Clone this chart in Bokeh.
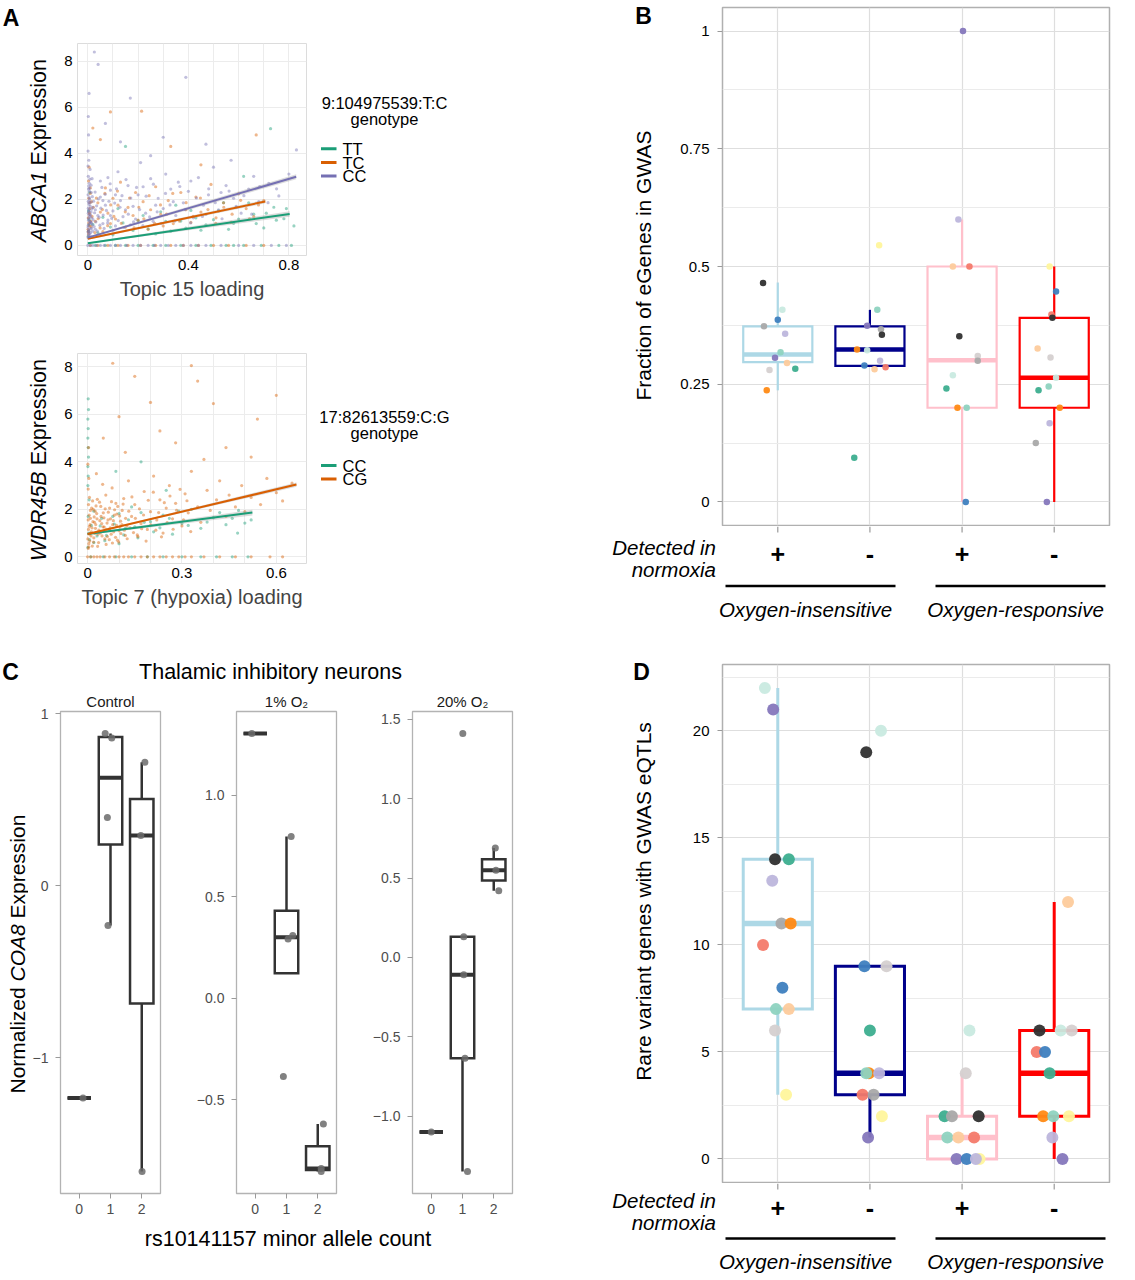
import numpy as np
from bokeh.plotting import figure
from bokeh.layouts import column, row
from bokeh.models import Range1d, FixedTicker, Label, BoxAnnotation, Plot, Title
from bokeh.core.properties import value
from bokeh.embed import file_html
from bokeh.resources import INLINE

FONT = "Liberation Sans"

# ------------------------------------------------------------------ panel A
# ABCA1 expression vs Topic 15 loading (one point per cell), by genotype
a1_tt = [(0.002, 0.40), (0.005, 0.90), (0.003, 1.50), (0.007, 2.30),
         (0.04, 0.55), (0.09, 0.80), (0.12, 1.60), (0.18, 0.65), (0.22, 1.30), (0.27, 0.50),
         (0.31, 1.05), (0.35, 1.75), (0.39, 0.75), (0.43, 1.20), (0.47, 0.90), (0.52, 1.50),
         (0.56, 0.70), (0.60, 1.15), (0.64, 1.85), (0.67, 0.95), (0.71, 1.40), (0.75, 1.10),
         (0.79, 1.60), (0.82, 0.85), (0.15, 4.30), (0.62, 3.00), (0.727, 5.07),
         (0.003, 0.62), (0.006, 1.12), (0.02, 0.92), (0.06, 1.22), (0.10, 0.46), (0.14, 0.98),
         (0.20, 1.08), (0.24, 0.72), (0.29, 1.46), (0.33, 0.62), (0.37, 1.06), (0.41, 1.52),
         (0.45, 0.66), (0.50, 1.12), (0.54, 1.86), (0.58, 0.96), (0.66, 1.36), (0.70, 0.76),
         (0.74, 1.66), (0.78, 1.16),
         (0.03, 0), (0.07, 0), (0.11, 0), (0.15, 0), (0.20, 0), (0.26, 0), (0.31, 0), (0.37, 0),
         (0.43, 0), (0.49, 0), (0.55, 0), (0.58, 0), (0.62, 0), (0.69, 0), (0.76, 0), (0.81, 0)]
a1_tc = [(0.003, 0.50), (0.006, 0.85), (0.002, 1.20), (0.008, 1.60), (0.004, 2.05), (0.010, 2.50),
         (0.005, 3.40), (0.012, 1.05), (0.015, 1.90), (0.001, 0.70), (0.007, 1.35), (0.003, 2.80),
         (0.03, 1.05), (0.04, 1.85), (0.06, 0.60), (0.07, 2.50), (0.08, 1.40), (0.10, 2.05),
         (0.11, 1.15), (0.13, 2.75), (0.15, 0.80), (0.16, 1.65), (0.19, 2.30), (0.20, 1.10),
         (0.22, 1.90), (0.24, 0.70), (0.27, 2.55), (0.29, 1.35), (0.32, 1.95), (0.34, 0.95),
         (0.37, 2.30), (0.39, 1.55), (0.41, 1.00), (0.43, 2.10), (0.45, 1.45), (0.49, 2.65),
         (0.51, 1.20), (0.54, 1.85), (0.57, 1.00), (0.60, 2.25), (0.63, 1.60), (0.66, 1.25),
         (0.70, 1.95), (0.05, 1.45), (0.09, 0.95), (0.12, 1.75), (0.18, 1.30), (0.25, 1.55),
         (0.30, 0.85), (0.09, 5.80), (0.214, 5.83), (0.33, 4.30), (0.05, 4.60), (0.45, 3.50),
         (0.67, 4.80), (0.02, 5.10),
         (0.002, 0.60), (0.004, 0.98), (0.006, 1.42), (0.008, 1.86), (0.010, 2.26), (0.013, 0.82),
         (0.017, 1.26), (0.022, 1.66), (0.028, 0.56), (0.034, 2.06), (0.041, 1.16), (0.049, 0.76),
         (0.058, 1.56), (0.068, 2.26), (0.079, 0.86), (0.091, 1.76), (0.104, 1.26), (0.118, 2.36),
         (0.133, 0.96), (0.149, 1.46), (0.166, 2.06), (0.184, 0.76), (0.203, 1.66), (0.223, 1.16),
         (0.244, 2.16), (0.266, 0.96), (0.289, 1.76), (0.313, 1.36), (0.338, 2.26), (0.364, 1.06),
         (0.391, 1.86), (0.419, 1.26), (0.448, 2.06), (0.478, 1.56), (0.509, 0.96), (0.541, 1.66),
         (0.574, 1.36), (0.608, 1.96), (0.643, 1.16), (0.679, 1.76),
         (0.01, 0), (0.04, 0), (0.08, 0), (0.12, 0), (0.16, 0), (0.21, 0), (0.27, 0), (0.33, 0),
         (0.38, 0), (0.44, 0), (0.50, 0), (0.56, 0), (0.63, 0), (0.70, 0)]
a1_cc = [(0.002, 0.45), (0.004, 0.62), (0.001, 0.80), (0.006, 0.95), (0.003, 1.10), (0.008, 1.25),
         (0.002, 1.40), (0.005, 1.55), (0.010, 1.70), (0.004, 1.85), (0.007, 2.00), (0.001, 2.20),
         (0.003, 2.45), (0.006, 2.70), (0.002, 3.00), (0.009, 3.30), (0.004, 3.70), (0.001, 4.10),
         (0.003, 4.80), (0.002, 5.60), (0.005, 6.60), (0.011, 0.55), (0.012, 1.00), (0.013, 1.45),
         (0.015, 0.75), (0.014, 2.30), (0.016, 1.20), (0.018, 0.90), (0.020, 1.65), (0.017, 2.90),
         (0.001, 0.35), (0.003, 0.68), (0.005, 1.32), (0.002, 1.92), (0.004, 2.58), (0.001, 3.45),
         (0.006, 0.52), (0.008, 1.05), (0.002, 1.62), (0.007, 2.35),
         (0.03, 0.70), (0.04, 1.30), (0.05, 2.10), (0.06, 0.95), (0.07, 1.75), (0.05, 2.80),
         (0.08, 1.10), (0.09, 2.40), (0.10, 1.50), (0.11, 0.85), (0.12, 3.20), (0.13, 1.95),
         (0.14, 1.25), (0.16, 2.60), (0.17, 0.90), (0.18, 1.70), (0.20, 2.20), (0.21, 3.60),
         (0.23, 1.40), (0.25, 2.90), (0.26, 1.05), (0.28, 2.05), (0.30, 1.60), (0.31, 3.10),
         (0.33, 2.45), (0.35, 1.30), (0.36, 2.75), (0.38, 1.85), (0.40, 2.35), (0.42, 1.20),
         (0.44, 2.95), (0.46, 1.75), (0.48, 2.20), (0.50, 3.40), (0.52, 1.55), (0.55, 2.60),
         (0.58, 2.05), (0.61, 1.40), (0.64, 2.45), (0.68, 1.90), (0.72, 2.70), (0.76, 2.15),
         (0.80, 3.10), (0.03, 1.55), (0.04, 0.45), (0.06, 1.95), (0.08, 2.95), (0.09, 1.30),
         (0.11, 2.20), (0.15, 1.55), (0.19, 1.15), (0.22, 2.55), (0.27, 1.75), (0.34, 1.90),
         (0.41, 2.80), (0.47, 1.35), (0.53, 2.30), (0.59, 1.70), (0.66, 3.00),
         (0.001, 0.58), (0.002, 0.88), (0.003, 1.18), (0.004, 1.48), (0.005, 1.78), (0.006, 2.08),
         (0.007, 2.48), (0.008, 2.88), (0.009, 0.42), (0.010, 0.72), (0.011, 1.32), (0.012, 1.88),
         (0.013, 2.62), (0.014, 0.98), (0.016, 1.58), (0.018, 2.12), (0.019, 0.62), (0.021, 1.12),
         (0.023, 1.92), (0.025, 0.82), (0.027, 1.42), (0.029, 2.32), (0.032, 1.02), (0.035, 1.72),
         (0.038, 0.62), (0.042, 2.02), (0.045, 1.22), (0.048, 0.88), (0.052, 1.62), (0.056, 2.52),
         (0.061, 1.32), (0.065, 0.74), (0.069, 2.22), (0.074, 1.52), (0.079, 0.98), (0.084, 1.92),
         (0.089, 2.68), (0.095, 1.18), (0.101, 0.66), (0.107, 1.84), (0.114, 2.46), (0.121, 1.08),
         (0.128, 1.66), (0.136, 2.16), (0.144, 0.78), (0.152, 2.86), (0.161, 1.36), (0.171, 2.06),
         (0.182, 1.02), (0.194, 2.52), (0.206, 1.56), (0.219, 0.86), (0.232, 2.14), (0.246, 1.24),
         (0.261, 2.66), (0.276, 1.46), (0.292, 0.96), (0.309, 2.26), (0.327, 1.76), (0.346, 1.06),
         (0.366, 2.56), (0.387, 1.56), (0.409, 0.98), (0.432, 2.06), (0.456, 1.26), (0.481, 2.46),
         (0.507, 1.86), (0.534, 1.16), (0.562, 2.36), (0.591, 1.66), (0.621, 2.16), (0.652, 1.36),
         (0.684, 2.56), (0.717, 1.86), (0.751, 2.46),
         (0.026, 8.40), (0.041, 7.86), (0.39, 7.30), (0.169, 6.40), (0.07, 5.30), (0.30, 4.70),
         (0.47, 4.40), (0.83, 4.15), (0.13, 4.50), (0.25, 3.90), (0.57, 3.70),
         (0.0, 0), (0.02, 0), (0.05, 0), (0.09, 0), (0.13, 0), (0.18, 0), (0.24, 0), (0.29, 0),
         (0.35, 0), (0.41, 0), (0.47, 0), (0.53, 0), (0.60, 0), (0.66, 0), (0.73, 0), (0.79, 0),
         (0.01, 0), (0.035, 0), (0.065, 0), (0.11, 0), (0.155, 0), (0.21, 0), (0.265, 0),
         (0.32, 0), (0.38, 0), (0.44, 0)]

a1_genotypes = ["TT", "TC", "CC"]
a1_colors = ["#1B9E77", "#D95F02", "#7570B3"]
a1_fit_xmax = [0.803, 0.706, 0.829]
a1_fit_y0 = [0.10, 0.29, 0.34]
a1_fit_y1 = [1.37, 1.91, 2.98]
a1_fit_se0 = [0.03, 0.04, 0.04]
a1_fit_se1 = [0.12, 0.08, 0.11]

# WDR45B expression vs Topic 7 (hypoxia) loading
a2_cc = [(0.001, 3.00), (0.002, 3.40), (0.001, 3.80), (0.003, 4.20), (0.002, 4.60), (0.001, 5.00),
         (0.002, 5.40), (0.001, 5.80), (0.003, 6.20), (0.002, 6.65), (0.001, 0.40), (0.004, 1.00),
         (0.002, 1.70), (0.005, 2.40),
         (0.02, 0.60), (0.04, 1.30), (0.06, 0.90), (0.08, 1.70), (0.10, 0.55), (0.12, 1.20),
         (0.14, 2.10), (0.16, 0.80), (0.18, 1.45), (0.21, 1.05), (0.24, 1.75), (0.27, 0.95),
         (0.30, 1.40), (0.33, 2.00), (0.36, 1.20), (0.40, 1.65), (0.44, 1.35), (0.48, 1.95),
         (0.52, 1.55), (0.09, 3.60), (0.25, 2.80), (0.17, 4.00), (0.477, 1.00),
         (0.006, 0.72), (0.012, 1.32), (0.02, 1.92), (0.03, 0.88), (0.045, 1.62), (0.055, 0.68),
         (0.07, 1.12), (0.085, 1.38), (0.10, 1.82), (0.115, 0.92), (0.13, 1.56), (0.15, 1.26),
         (0.17, 1.86), (0.20, 1.48), (0.23, 1.22), (0.26, 1.62), (0.29, 1.92), (0.32, 1.32),
         (0.38, 1.46), (0.42, 1.86), (0.46, 1.62), (0.50, 1.42),
         (0.01, 0), (0.05, 0), (0.09, 0), (0.14, 0), (0.19, 0), (0.24, 0), (0.30, 0), (0.36, 0),
         (0.41, 0), (0.46, 0), (0.51, 0)]
a2_cg = [(0.002, 0.35), (0.004, 0.55), (0.001, 0.75), (0.006, 0.95), (0.003, 1.15), (0.008, 1.35),
         (0.002, 1.55), (0.005, 1.75), (0.009, 1.95), (0.003, 2.20), (0.006, 2.50), (0.002, 2.85),
         (0.004, 3.30), (0.001, 3.90), (0.003, 4.60),
         (0.015, 0.45), (0.020, 0.80), (0.025, 1.20), (0.030, 1.60), (0.018, 2.00), (0.035, 0.60),
         (0.040, 1.00), (0.045, 1.40), (0.050, 1.85), (0.038, 2.30), (0.055, 0.75), (0.060, 1.15),
         (0.065, 1.55), (0.070, 2.05), (0.058, 2.60), (0.075, 0.95), (0.080, 1.35), (0.085, 1.75),
         (0.090, 2.25), (0.078, 2.90), (0.095, 0.70), (0.100, 1.10), (0.105, 1.50), (0.110, 1.95),
         (0.115, 2.45), (0.120, 0.90), (0.125, 1.30), (0.130, 3.20), (0.028, 3.50), (0.048, 3.05),
         (0.012, 1.05), (0.022, 1.45), (0.033, 0.95), (0.043, 1.70), (0.053, 1.25), (0.063, 0.85),
         (0.073, 1.60), (0.083, 1.05), (0.093, 1.80), (0.103, 1.25),
         (0.004, 0.42), (0.007, 0.66), (0.011, 0.88), (0.014, 1.22), (0.017, 1.48), (0.021, 1.68),
         (0.024, 1.92), (0.027, 2.14), (0.031, 2.42), (0.006, 1.28), (0.009, 1.62), (0.013, 2.05),
         (0.016, 2.35), (0.019, 0.62), (0.023, 0.98), (0.026, 1.36), (0.029, 1.82), (0.032, 0.44),
         (0.036, 1.12), (0.039, 1.52), (0.042, 2.12), (0.046, 0.88), (0.049, 1.26), (0.052, 1.64),
         (0.056, 2.02), (0.059, 0.52), (0.062, 1.42), (0.066, 1.88), (0.069, 0.72), (0.072, 1.22),
         (0.076, 2.32), (0.079, 0.58), (0.082, 1.52), (0.086, 1.98), (0.089, 0.82), (0.092, 1.32),
         (0.096, 2.12), (0.099, 0.62), (0.102, 1.72), (0.106, 0.98), (0.109, 1.36), (0.113, 2.22),
         (0.117, 1.12), (0.121, 1.62), (0.126, 0.76), (0.131, 1.92), (0.135, 1.22), (0.141, 2.52),
         (0.146, 1.02), (0.152, 1.62), (0.158, 0.92), (0.165, 2.02), (0.172, 1.18), (0.178, 1.76),
         (0.186, 0.66), (0.193, 2.38), (0.201, 1.34), (0.209, 2.72), (0.217, 1.12), (0.226, 1.86),
         (0.235, 0.84), (0.244, 2.28), (0.253, 1.44), (0.262, 2.56), (0.272, 1.16), (0.283, 1.96),
         (0.294, 2.84), (0.305, 1.56), (0.316, 2.36), (0.328, 1.06),
         (0.14, 1.70), (0.15, 2.20), (0.16, 0.85), (0.17, 1.40), (0.18, 2.75), (0.19, 1.15),
         (0.20, 1.90), (0.21, 3.40), (0.22, 1.55), (0.23, 2.40), (0.24, 1.00), (0.25, 2.05),
         (0.26, 3.00), (0.27, 1.60), (0.28, 2.25), (0.30, 1.30), (0.31, 2.65), (0.32, 1.85),
         (0.33, 3.60), (0.35, 2.10), (0.36, 1.45), (0.38, 2.80), (0.39, 1.95), (0.41, 2.40),
         (0.42, 3.20), (0.44, 1.70), (0.45, 2.60), (0.47, 2.10), (0.49, 3.00), (0.50, 1.90),
         (0.52, 2.50), (0.55, 2.20), (0.57, 3.30), (0.60, 2.70), (0.62, 2.35), (0.65, 3.10),
         (0.08, 8.15), (0.15, 7.60), (0.33, 8.05), (0.35, 7.40), (0.40, 6.45), (0.54, 5.80),
         (0.60, 6.80), (0.20, 6.50), (0.10, 5.90), (0.23, 5.30), (0.44, 4.60), (0.28, 4.80),
         (0.12, 4.40), (0.05, 5.00), (0.52, 4.20), (0.37, 4.10),
         (0.0, 0), (0.02, 0), (0.04, 0), (0.07, 0), (0.10, 0), (0.13, 0), (0.17, 0), (0.21, 0),
         (0.25, 0), (0.29, 0), (0.33, 0), (0.37, 0), (0.42, 0), (0.47, 0), (0.52, 0), (0.58, 0),
         (0.62, 0), (0.01, 0), (0.03, 0), (0.055, 0), (0.085, 0), (0.115, 0), (0.15, 0),
         (0.19, 0), (0.23, 0), (0.27, 0), (0.31, 0)]

a2_genotypes = ["CC", "CG"]
a2_colors = ["#1B9E77", "#D95F02"]
a2_fit_xmax = [0.524, 0.664]
a2_fit_y0 = [0.96, 0.96]
a2_fit_y1 = [1.86, 3.04]
a2_fit_se0 = [0.03, 0.02]
a2_fit_se1 = [0.12, 0.09]

# ------------------------------------------------------------------ panels B and D
group_ticks = [1, 2, 3, 4]
group_marks = ["+", "-", "+", "-"]
box_colors = ["#ADD8E6", "#00008B", "#FFC0CB", "#FF0000"]

PAL = {"K": "#303030", "TL": "#3DAE8F", "MT": "#8ED3C0", "PM": "#C9EAE0", "BL": "#3E80BF",
       "PU": "#8577BC", "LV": "#BDB6DC", "OR": "#FF8A14", "SA": "#F47A6A", "PE": "#FDCB9C",
       "YE": "#FFF69C", "GR": "#A9A9A9", "LG": "#D5D0D0"}

# fraction of eGenes in GWAS: (group, horizontal jitter, value, cell-type colour)
b_points = [(1, -0.16, 0.465, "K"), (1, 0.05, 0.408, "PM"), (1, 0.00, 0.387, "BL"),
            (1, -0.15, 0.373, "GR"), (1, 0.08, 0.357, "LV"), (1, 0.03, 0.318, "MT"),
            (1, -0.03, 0.306, "PU"), (1, 0.10, 0.295, "PE"), (1, -0.09, 0.280, "LG"),
            (1, 0.19, 0.283, "TL"), (1, -0.12, 0.237, "OR"),
            (2, 0.10, 0.545, "YE"), (2, 0.08, 0.408, "MT"), (2, -0.03, 0.374, "PU"),
            (2, 0.12, 0.367, "GR"), (2, 0.13, 0.355, "K"), (2, -0.14, 0.324, "OR"),
            (2, -0.03, 0.322, "PM"), (2, 0.11, 0.300, "LV"), (2, -0.06, 0.290, "BL"),
            (2, 0.05, 0.282, "PE"), (2, 0.17, 0.286, "SA"), (2, -0.17, 0.094, "TL"),
            (3, 0.01, 1.000, "PU"), (3, -0.04, 0.600, "LV"), (3, -0.10, 0.500, "PE"),
            (3, 0.08, 0.500, "SA"), (3, -0.03, 0.352, "K"), (3, 0.17, 0.310, "LG"),
            (3, 0.17, 0.300, "GR"), (3, -0.10, 0.269, "PM"), (3, -0.17, 0.241, "TL"),
            (3, -0.05, 0.200, "OR"), (3, 0.05, 0.200, "MT"), (3, 0.04, 0.000, "BL"),
            (4, -0.05, 0.500, "YE"), (4, 0.02, 0.447, "BL"), (4, -0.03, 0.398, "SA"),
            (4, -0.02, 0.391, "K"), (4, -0.18, 0.326, "PE"), (4, -0.04, 0.307, "LG"),
            (4, 0.02, 0.264, "PM"), (4, -0.06, 0.245, "MT"), (4, -0.17, 0.237, "TL"),
            (4, 0.06, 0.200, "OR"), (4, -0.05, 0.167, "LV"), (4, -0.20, 0.125, "GR"),
            (4, -0.08, 0.000, "PU")]
b_q1 = [0.297, 0.289, 0.200, 0.200]
b_med = [0.313, 0.324, 0.301, 0.264]
b_q3 = [0.373, 0.373, 0.500, 0.391]
b_lo = [0.237, 0.289, 0.000, 0.000]
b_hi = [0.466, 0.408, 0.600, 0.500]

# rare variant genes with GWAS eQTLs
d_points = [(1, -0.14, 22, "PM"), (1, -0.05, 21, "PU"), (1, -0.03, 14, "K"), (1, 0.12, 14, "TL"),
            (1, -0.06, 13, "LV"), (1, 0.04, 11, "GR"), (1, 0.14, 11, "OR"), (1, -0.16, 10, "SA"),
            (1, 0.05, 8, "BL"), (1, -0.02, 7, "MT"), (1, 0.12, 7, "PE"), (1, -0.03, 6, "LG"),
            (1, 0.09, 3, "YE"),
            (2, 0.12, 20, "PM"), (2, -0.04, 19, "K"), (2, -0.06, 9, "BL"), (2, 0.18, 9, "LG"),
            (2, 0.00, 6, "TL"), (2, -0.01, 4, "OR"), (2, -0.04, 4, "MT"), (2, 0.10, 4, "LV"),
            (2, -0.08, 3, "SA"), (2, 0.04, 3, "GR"), (2, 0.13, 2, "YE"), (2, -0.02, 1, "PU"),
            (3, 0.08, 6, "PM"), (3, 0.04, 4, "LG"), (3, -0.19, 2, "TL"), (3, -0.11, 2, "GR"),
            (3, 0.18, 2, "K"), (3, -0.16, 1, "MT"), (3, -0.04, 1, "PE"), (3, 0.13, 1, "SA"),
            (3, 0.19, 0, "YE"), (3, -0.06, 0, "PU"), (3, 0.05, 0, "BL"), (3, 0.15, 0, "LV"),
            (4, 0.15, 12, "PE"), (4, -0.16, 6, "K"), (4, 0.07, 6, "PM"), (4, 0.19, 6, "LG"),
            (4, -0.19, 5, "SA"), (4, -0.10, 5, "BL"), (4, -0.05, 4, "TL"), (4, -0.12, 2, "OR"),
            (4, -0.01, 2, "MT"), (4, 0.16, 2, "YE"), (4, -0.02, 1, "LV"), (4, 0.09, 0, "PU")]
d_q1 = [7, 3, 0, 2]
d_med = [11, 4, 1, 4]
d_q3 = [14, 9, 2, 6]
d_lo = [3, 1, 0, 0]
d_hi = [22, 9, 4, 12]

# ------------------------------------------------------------------ panel C
c_strips = ["Control", "1% O\u2082", "20% O\u2082"]
c_ctrl_count = [0, 1, 1, 1, 1, 2, 2, 2]
c_ctrl_expr = [-1.235, 0.885, 0.858, 0.396, -0.232, 0.717, 0.291, -1.663]
c_ctrl_jit = [0.12, -0.17, 0.04, -0.10, -0.08, 0.10, -0.03, 0.01]
c_low_count = [0, 1, 1, 1, 1, 2, 2, 2]
c_low_expr = [1.304, 0.796, 0.309, 0.292, -0.386, -0.620, -0.839, -0.854]
c_low_jit = [-0.11, 0.15, 0.20, 0.05, -0.10, 0.18, 0.11, 0.11]
c_high_count = [0, 1, 1, 1, 1, 1, 2, 2, 2]
c_high_expr = [-1.100, 1.412, 0.131, -0.109, -0.636, -1.350, 0.690, 0.549, 0.420]
c_high_jit = [0.0, 0.01, 0.04, 0.04, 0.08, 0.16, 0.05, 0.07, 0.16]
c_ticks = [[-1, 0, 1], [-0.5, 0.0, 0.5, 1.0], [-1.0, -0.5, 0.0, 0.5, 1.0, 1.5]]
c_tick_labels = [["\u22121", "0", "1"], ["\u22120.5", "0.0", "0.5", "1.0"],
                 ["\u22121.0", "\u22120.5", "0.0", "0.5", "1.0", "1.5"]]

# ------------------------------------------------------------------ helpers
FRAMES = {}
# annotation strips keep their own full-canvas frame inside rows/columns
NO_ALIGN = {"frame_align": False} if "frame_align" in Plot.properties() else {}


def make_panel(ox, oy, w, h, frame, xr, yr, **kw):
    # frame = (left, top, right, bottom) in page pixels
    fl, ft, fr, fb = frame
    p = figure(width=w, height=h, x_range=Range1d(*xr), y_range=Range1d(*yr),
               min_border_left=int(round(fl - ox)), min_border_right=int(round(ox + w - fr)),
               min_border_top=int(round(ft - oy)), min_border_bottom=int(round(oy + h - fb)),
               output_backend="svg", toolbar_location=None, title=None, **kw)
    p.border_fill_color = "white"
    p.background_fill_color = "white"
    FRAMES[id(p)] = (fl, fb)
    return p


def text_fig(ox, oy, w, h, xr=None):
    # annotation strip: the frame fills the whole canvas, y runs down the page
    p = figure(width=w, height=h, x_range=Range1d(*(xr or (ox, ox + w))),
               y_range=Range1d(oy + h, oy),
               min_border_left=0, min_border_right=0, min_border_top=0, min_border_bottom=0,
               x_axis_type=None, y_axis_type=None,
               output_backend="svg", toolbar_location=None, title=None, **NO_ALIGN)
    p.outline_line_color = None
    p.border_fill_color = "white"
    p.background_fill_color = "white"
    FRAMES[id(p)] = (ox, oy + h)
    return p


def text(p, px, py, s, size, style="normal", align="center", baseline="middle", angle=0.0,
         color="#000000"):
    fl, fb = FRAMES[id(p)]
    p.add_layout(Label(x=px - fl, y=fb - py, x_units="screen", y_units="screen", text=s,
                       text_font=FONT, text_font_size=f"{size}px", text_font_style=style,
                       text_align=align, text_baseline=baseline, angle=angle, text_color=color))


def hbar(p, x0, x1, py, thick, color):
    fl, fb = FRAMES[id(p)]
    p.add_layout(BoxAnnotation(left=x0 - fl, right=x1 - fl,
                               bottom=fb - py - thick / 2, top=fb - py + thick / 2,
                               left_units="screen", right_units="screen",
                               bottom_units="screen", top_units="screen",
                               fill_color=color, fill_alpha=1.0, line_color=None))


def style_axis(ax, size, color="#000000", tick_out=0, standoff=5, style="normal"):
    ax.axis_line_color = None
    ax.major_tick_line_color = "#9a9a9a" if tick_out else None
    ax.major_tick_out = tick_out
    ax.major_tick_in = 0
    ax.minor_tick_line_color = None
    ax.major_label_standoff = standoff
    ax.major_label_text_font = FONT
    ax.major_label_text_font_size = f"{size}px"
    ax.major_label_text_color = color
    ax.major_label_text_font_style = style


def mixed_ylabel(p, px, junction, italic_part, rest, size):
    # italic gene symbol ending at the junction, plain remainder one space above (reads upward)
    gap = 0.278 * size
    text(p, px, junction, italic_part, size, style="italic", align="right", angle=np.pi / 2)
    text(p, px, junction - gap, rest, size, align="left", angle=np.pi / 2)


def split(pts):
    return [q[0] for q in pts], [q[1] for q in pts]


# ------------------------------------------------------------------ panel A figures
def scatter_panel(oy, h, frame, xr, yr, series, colors, fits, xticks, xgrid, xlabel):
    p = make_panel(56, oy, 256, h, frame, xr, yr)
    p.outline_line_color = "#dcdcdc"
    p.outline_line_width = 1
    p.xaxis.ticker = FixedTicker(ticks=xticks)
    p.xaxis.major_label_overrides = {t: ("0" if t == 0 else f"{t:g}") for t in xticks}
    p.yaxis.ticker = FixedTicker(ticks=[0, 2, 4, 6, 8])
    style_axis(p.xaxis[0], 15, standoff=4)
    style_axis(p.yaxis[0], 15, standoff=5)
    p.xaxis.axis_label = xlabel
    p.xaxis.axis_label_text_font = FONT
    p.xaxis.axis_label_text_font_size = "20px"
    p.xaxis.axis_label_text_font_style = "normal"
    p.xaxis.axis_label_standoff = 5
    p.xgrid.ticker = FixedTicker(ticks=xgrid)
    p.ygrid.ticker = FixedTicker(ticks=[0, 2, 4, 6, 8])
    p.xgrid.grid_line_color = "#ececec"
    p.ygrid.grid_line_color = "#ececec"
    for pts, col in zip(series, colors):
        xs, ys = split(pts)
        p.scatter(xs, ys, size=3.2, fill_color=col, line_color=None, fill_alpha=0.45)
    xmax, y0, y1, se0, se1 = fits
    for i, col in enumerate(colors):
        xs = [0, xmax[i]]
        p.varea(x=xs, y1=[y0[i] - se0[i], y1[i] - se1[i]], y2=[y0[i] + se0[i], y1[i] + se1[i]],
                fill_color="#9a9a9a", fill_alpha=0.35)
        p.line(xs, [y0[i], y1[i]], line_color=col, line_width=2)
    return p


pA1_left = text_fig(0, 0, 56, 330)
pA1 = scatter_panel(0, 330, (77, 43, 306, 255), (-0.041, 0.870), (-0.436, 8.77),
                    [a1_tt, a1_tc, a1_cc], a1_colors,
                    (a1_fit_xmax, a1_fit_y0, a1_fit_y1, a1_fit_se0, a1_fit_se1),
                    [0, 0.4, 0.8], [0, 0.1, 0.2, 0.3, 0.4, 0.5, 0.6, 0.7, 0.8],
                    "Topic 15 loading")
pA1_right = text_fig(312, 0, 288, 330)
text(pA1_left, 10.5, 17, "A", 23, style="bold")
mixed_ylabel(pA1_left, 38, 170.9, "ABCA1", "Expression", 21.5)
text(pA1_right, 384, 102, "9:104975539:T:C", 16.5)
text(pA1_right, 384, 118.5, "genotype", 16.5)
for g, col, yy in zip(a1_genotypes, a1_colors, [148.3, 162, 175.5]):
    hbar(pA1_right, 320.5, 336, yy, 3, col)
    text(pA1_right, 342, yy, g, 16.5, align="left")

pA2_left = text_fig(0, 330, 56, 300)
pA2 = scatter_panel(330, 300, (77, 353, 306, 563), (-0.032, 0.696), (-0.283, 8.56),
                    [a2_cc, a2_cg], a2_colors,
                    (a2_fit_xmax, a2_fit_y0, a2_fit_y1, a2_fit_se0, a2_fit_se1),
                    [0, 0.3, 0.6], [0, 0.1, 0.2, 0.3, 0.4, 0.5, 0.6],
                    "Topic 7 (hypoxia) loading")
pA2_right = text_fig(312, 330, 288, 300)
mixed_ylabel(pA2_left, 38, 470.8, "WDR45B", "Expression", 21.5)
text(pA2_right, 384, 416, "17:82613559:C:G", 16.5)
text(pA2_right, 384, 432.7, "genotype", 16.5)
for g, col, yy in zip(a2_genotypes, a2_colors, [465, 478.5]):
    hbar(pA2_right, 320.5, 336, yy, 3, col)
    text(pA2_right, 342, yy, g, 16.5, align="left")


# ------------------------------------------------------------------ panels B and D figures
PX_PER_GROUP = (1109 - 722) / 4.2


def box_panel(oy, h, frame, yr, yticks, ylabels, ygrid_minor, points, stats, psize, lw, mw):
    p = make_panel(660, oy, 475, h, frame, (0.4, 4.6), yr, x_axis_location=None)
    p.outline_line_color = "#b0b0b0"
    p.outline_line_width = 1.5
    p.yaxis.ticker = FixedTicker(ticks=yticks)
    p.yaxis.major_label_overrides = dict(zip(yticks, ylabels))
    style_axis(p.yaxis[0], 15, tick_out=5, standoff=8)
    p.xgrid.ticker = FixedTicker(ticks=group_ticks)
    p.ygrid.ticker = FixedTicker(ticks=yticks, minor_ticks=ygrid_minor)
    p.xgrid.grid_line_color = "#dedede"
    p.ygrid.grid_line_color = "#dedede"
    p.xgrid.grid_line_width = 1.2
    p.ygrid.grid_line_width = 1.2
    p.ygrid.minor_grid_line_color = "#ebebeb"
    p.ygrid.minor_grid_line_width = 1.0

    q1, med, q3, lo, hi = stats
    xs = np.array(group_ticks, dtype=float)
    p.segment(xs, lo, xs, q1, line_color=box_colors, line_width=lw)
    p.segment(xs, q3, xs, hi, line_color=box_colors, line_width=lw)
    p.quad(left=xs - 0.375, right=xs + 0.375, bottom=q1, top=q3, fill_color="white",
           line_color=box_colors, line_width=lw, line_join="miter")
    p.segment(xs - 0.375, med, xs + 0.375, med, line_color=box_colors, line_width=mw)

    px = [g + j for g, j, v, c in points]
    py = [v for g, j, v, c in points]
    pc = [PAL[c] for g, j, v, c in points]
    p.scatter(px, py, size=psize, fill_color=pc, line_color=None, fill_alpha=0.95)
    return p


def group_axis(oy, h, ys):
    # category ticks, +/- marks and the two group brackets below a box panel
    xr = (0.4 - (722 - 600) / PX_PER_GROUP, 4.6 + (1135 - 1109) / PX_PER_GROUP)
    p = text_fig(600, oy, 535, h, xr=xr)
    y_mark, y_det, y_norm, y_line, y_grp = ys
    p.segment(x0=group_ticks, y0=[oy] * 4, x1=group_ticks, y1=[oy + 6] * 4,
              line_color="#9a9a9a", line_width=1.2)
    p.text(x=group_ticks, y=[y_mark] * 4, text=group_marks, text_font=value(FONT),
           text_font_size="25px", text_font_style="bold", text_align="center",
           text_baseline="middle", text_color="#000000")
    text(p, 715.5, y_det, "Detected in", 20.5, style="italic", align="right")
    text(p, 715.5, y_norm, "normoxia", 20.5, style="italic", align="right")
    hbar(p, 725, 895, y_line, 2.3, "#000000")
    hbar(p, 935, 1105, y_line, 2.3, "#000000")
    text(p, 805, y_grp, "Oxygen-insensitive", 20.5, style="italic")
    text(p, 1015, y_grp, "Oxygen-responsive", 20.5, style="italic")
    return p


pB_left = text_fig(600, 0, 60, 526)
text(pB_left, 643, 15.5, "B", 23, style="bold")
text(pB_left, 642.5, 265, "Fraction of eGenes in GWAS", 21, angle=np.pi / 2)
pB = box_panel(0, 526, (722, 7, 1109, 525), (-0.05, 1.05),
               [0, 0.25, 0.5, 0.75, 1], ["0", "0.25", "0.5", "0.75", "1"],
               [0.125, 0.375, 0.625, 0.875], b_points, (b_q1, b_med, b_q3, b_lo, b_hi),
               6.5, 2.2, 4.5)
pB_bottom = group_axis(526, 104, (553, 547, 569, 585.5, 608.5))

pD_left = text_fig(600, 630, 60, 553)
text(pD_left, 641, 671.5, "D", 23, style="bold")
text(pD_left, 642.5, 901, "Rare variant genes with GWAS eQTLs", 21, angle=np.pi / 2)
pD = box_panel(630, 553, (722, 664, 1109, 1182), (-1.1, 23.1),
               [0, 5, 10, 15, 20], ["0", "5", "10", "15", "20"],
               [2.5, 7.5, 12.5, 17.5, 22.5], d_points, (d_q1, d_med, d_q3, d_lo, d_hi),
               12, 3, 5.5)
pD_bottom = group_axis(1183, 97, (1207, 1200, 1222, 1238, 1260.5))


# ------------------------------------------------------------------ panel C figures
def box_stats(vals):
    v = np.sort(np.asarray(vals, dtype=float))
    q1, med, q3 = np.percentile(v, [25, 50, 75])
    iqr = q3 - q1
    lo = v[v >= q1 - 1.5 * iqr].min()
    hi = v[v <= q3 + 1.5 * iqr].max()
    return q1, med, q3, lo, hi


C_TOP = 684


def facet(ox, w, fl, strip, counts, expr, jit, ticks, labels):
    span = max(expr) - min(expr)
    yr = (min(expr) - 0.05 * span, max(expr) + 0.05 * span)
    p = make_panel(ox, C_TOP, w, 1222 - C_TOP, (fl, 711, fl + 100, 1193), (-0.6, 2.6), yr)
    p.title = Title(text=strip, align="center", text_font=FONT, text_font_size="15px",
                    text_font_style="normal", text_color="#1a1a1a", standoff=3)
    p.outline_line_color = "#b3b3b3"
    p.outline_line_width = 1.3
    p.grid.grid_line_color = None
    p.xaxis.ticker = FixedTicker(ticks=[0, 1, 2])
    p.yaxis.ticker = FixedTicker(ticks=ticks)
    p.yaxis.major_label_overrides = dict(zip(ticks, labels))
    style_axis(p.xaxis[0], 14, color="#4d4d4d", tick_out=5, standoff=5)
    style_axis(p.yaxis[0], 14, color="#4d4d4d", tick_out=5, standoff=7)

    q1s, meds, q3s, los, his = [], [], [], [], []
    for g in (0, 1, 2):
        s = box_stats([e for c, e in zip(counts, expr) if c == g])
        for lst, val in zip((q1s, meds, q3s, los, his), s):
            lst.append(val)
    xs = np.array([0, 1, 2], dtype=float)
    ink = "#333333"
    p.segment(xs, los, xs, q1s, line_color=ink, line_width=2.5)
    p.segment(xs, q3s, xs, his, line_color=ink, line_width=2.5)
    p.quad(left=xs - 0.375, right=xs + 0.375, bottom=q1s, top=q3s, fill_color="white",
           line_color=ink, line_width=2.5, line_join="miter")
    p.segment(xs - 0.375, meds, xs + 0.375, meds, line_color=ink, line_width=4)
    p.scatter([c + j for c, j in zip(counts, jit)], expr, size=7, fill_color="#6b6b6b",
              line_color=None, fill_alpha=0.85)
    return p


pCt = text_fig(0, 630, 600, C_TOP - 630)
text(pCt, 10, 671, "C", 23, style="bold")
text(pCt, 270, 671, "Thalamic inhibitory neurons", 21.5)

pC_left = text_fig(0, C_TOP, 28, 1222 - C_TOP)
# y-axis title: "Normalized COA8 Expression" with the gene symbol in italics (reads upward)
text(pC_left, 17, 986.8, "Normalized", 21, align="right", angle=np.pi / 2)
text(pC_left, 17, 981.0, "COA8", 21, style="italic", align="left", angle=np.pi / 2)
text(pC_left, 17, 918.0, "Expression", 21, align="left", angle=np.pi / 2)

pC1 = facet(28, 148, 60, c_strips[0], c_ctrl_count, c_ctrl_expr, c_ctrl_jit,
            c_ticks[0], c_tick_labels[0])
pC2 = facet(176, 176, 236, c_strips[1], c_low_count, c_low_expr, c_low_jit,
            c_ticks[1], c_tick_labels[1])
pC3 = facet(352, 248, 412, c_strips[2], c_high_count, c_high_expr, c_high_jit,
            c_ticks[2], c_tick_labels[2])

pCx = text_fig(0, 1222, 600, 58)
text(pCx, 287.5, 1238, "rs10141157 minor allele count", 21.5)

# ------------------------------------------------------------------ layout
col_a = column(row(pA1_left, pA1, pA1_right), row(pA2_left, pA2, pA2_right))
col_b = column(row(pB_left, pB), pB_bottom)
col_c = column(pCt, row(pC_left, pC1, pC2, pC3), pCx)
col_d = column(row(pD_left, pD), pD_bottom)
layout = column(row(col_a, col_b), row(col_c, col_d))

with open("out.html", "w") as f:
    f.write(file_html(layout, INLINE))
